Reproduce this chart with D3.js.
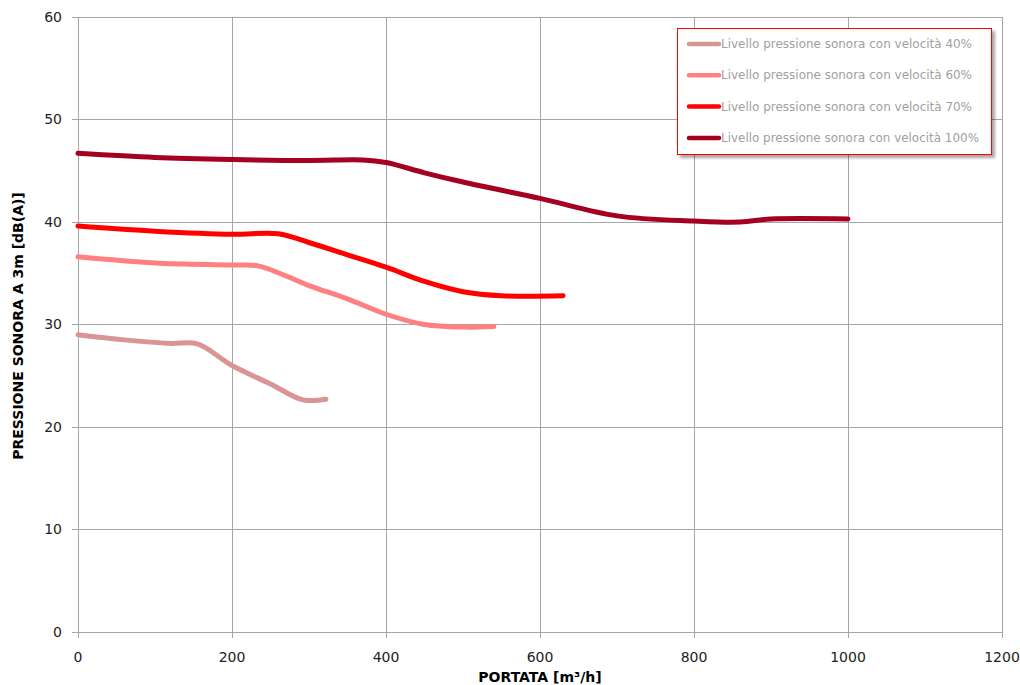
<!DOCTYPE html>
<html><head><meta charset="utf-8">
<script src="https://cdn.jsdelivr.net/npm/d3@7"></script>
<style>body{margin:0;background:#fff}svg{display:block}</style>
</head><body>
<svg id="c" width="1020" height="685"></svg>
<script>
const xTicks = [0,200,400,600,800,1000,1200];
const yTicks = [0,10,20,30,40,50,60];
const seriesNames = ["Livello pressione sonora con velocità 40%","Livello pressione sonora con velocità 60%","Livello pressione sonora con velocità 70%","Livello pressione sonora con velocità 100%"];
const seriesColors = ["#d99594","#ff8080","#ff0000","#a50021"];
const s40 = [[0,29.0],[60,28.5],[120,28.15],[155,28.1],[200,26.0],[250,24.2],[292,22.65],[322,22.7]];
const s60 = [[0,36.6],[100,36.0],[200,35.8],[235,35.7],[300,33.8],[350,32.5],[400,31.0],[450,30.0],[500,29.75],[540,29.8]];
const s70 = [[0,39.6],[100,39.1],[200,38.8],[260,38.85],[300,38.0],[350,36.8],[400,35.6],[450,34.2],[500,33.2],[550,32.8],[630,32.8]];
const s100 = [[0,46.7],[100,46.3],[200,46.1],[300,46.0],[370,46.05],[400,45.8],[450,44.8],[500,43.9],[600,42.3],[700,40.6],[800,40.1],[860,40.0],[900,40.3],[1000,40.3]];
const series = [s40,s60,s70,s100];

const svg = d3.select("#c");
const x = d3.scaleLinear().domain([0,1200]).range([78,1002]);
const y = d3.scaleLinear().domain([0,60]).range([632,17]);
const grid = "#a6a6a6";

svg.append("g").selectAll("line").data(yTicks).join("line")
  .attr("x1",72).attr("x2",1002).attr("y1",d=>y(d)).attr("y2",d=>y(d))
  .attr("stroke",grid).attr("stroke-width",1).attr("shape-rendering","crispEdges");
svg.append("g").selectAll("line").data(xTicks).join("line")
  .attr("y1",17).attr("y2",638).attr("x1",d=>x(d)).attr("x2",d=>x(d))
  .attr("stroke",grid).attr("stroke-width",1).attr("shape-rendering","crispEdges");

svg.append("g").selectAll("text").data(yTicks).join("text")
  .attr("x",62).attr("y",d=>y(d)).attr("dy","0.35em").attr("text-anchor","end")
  .attr("font-family","DejaVu Sans, Verdana, sans-serif").attr("font-size",14).attr("fill","#222")
  .text(d=>d);
svg.append("g").selectAll("text").data(xTicks).join("text")
  .attr("x",d=>x(d)).attr("y",657).attr("dy","0.35em").attr("text-anchor","middle")
  .attr("font-family","DejaVu Sans, Verdana, sans-serif").attr("font-size",14).attr("fill","#222")
  .text(d=>d);

svg.append("text").attr("x",540).attr("y",682).attr("text-anchor","middle")
  .attr("font-family","DejaVu Sans, sans-serif").attr("font-weight","bold").attr("font-size",14).attr("fill","#000")
  .text("PORTATA [m³/h]");
svg.append("text").attr("transform","translate(23,326) rotate(-90)").attr("text-anchor","middle")
  .attr("font-family","DejaVu Sans, sans-serif").attr("font-weight","bold").attr("font-size",14).attr("fill","#000")
  .text("PRESSIONE SONORA A 3m [dB(A)]");

const line = d3.line().x(d=>x(d[0])).y(d=>y(d[1])).curve(d3.curveCatmullRom.alpha(0.5));
svg.append("g").selectAll("path").data(series).join("path")
  .attr("d",line).attr("fill","none").attr("stroke",(d,i)=>seriesColors[i])
  .attr("stroke-width",5).attr("stroke-linecap","round").attr("stroke-linejoin","round");

const defs = svg.append("defs");
const f = defs.append("filter").attr("id","sh").attr("x","-10%").attr("y","-10%").attr("width","130%").attr("height","130%");
f.append("feDropShadow").attr("dx",3).attr("dy",3).attr("stdDeviation",1.5).attr("flood-color","#000").attr("flood-opacity",0.35);
svg.append("rect").attr("x",677.5).attr("y",28.5).attr("width",314).attr("height",126)
  .attr("fill","#fff").attr("stroke","#ff0000").attr("stroke-width",1).attr("filter","url(#sh)");
const lg = svg.append("g").selectAll("g").data(seriesNames).join("g")
  .attr("transform",(d,i)=>`translate(0,${44+i*31.3})`);
lg.append("line").attr("x1",689).attr("x2",719).attr("y1",0).attr("y2",0)
  .attr("stroke",(d,i)=>seriesColors[i]).attr("stroke-width",4.5).attr("stroke-linecap","round");
lg.append("text").attr("x",721).attr("y",0).attr("dy","0.35em")
  .attr("font-family","DejaVu Sans, sans-serif").attr("font-size",11.5).attr("fill","#a0a0a0")
  .attr("textLength",(d,i)=>i===3?258:251).attr("lengthAdjust","spacingAndGlyphs")
  .text(d=>d);
</script>
</body></html>
